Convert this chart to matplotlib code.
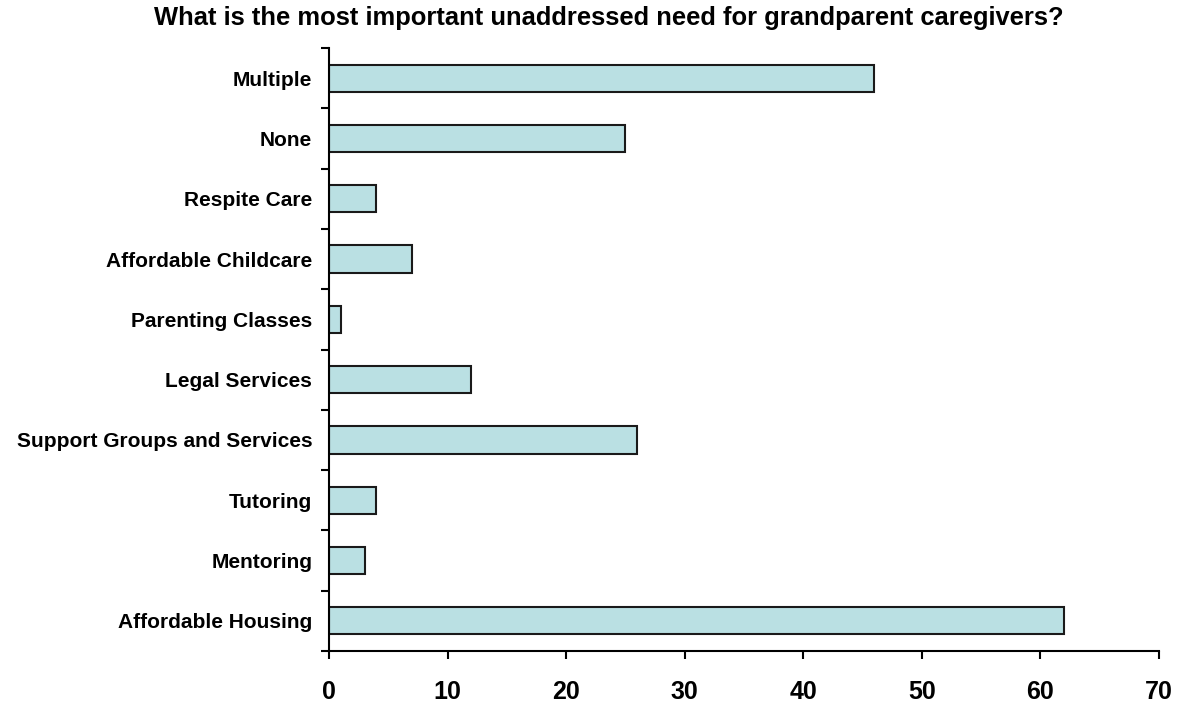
import matplotlib
matplotlib.use("Agg")
import matplotlib.pyplot as plt
from matplotlib.ticker import FixedLocator, NullFormatter

plt.rcParams['font.family'] = ['Liberation Sans', 'DejaVu Sans']

# categories listed bottom to top
needs = ["Affordable Housing", "Mentoring", "Tutoring", "Support Groups and Services",
         "Legal Services", "Parenting Classes", "Affordable Childcare", "Respite Care",
         "None", "Multiple"]
counts = [62, 3, 4, 26, 12, 1, 7, 4, 25, 46]

fig = plt.figure(figsize=(11.78, 7.07), dpi=100)
ax = fig.add_axes([329 / 1178, 1 - 651 / 707, 830 / 1178, 603 / 707])

pos = list(range(len(needs)))
ax.barh(pos, counts, height=0.45, color="#BAE0E3", edgecolor="#1a1a1a", linewidth=1.5)

ax.set_xlim(0, 70)
ax.set_ylim(-0.5, len(needs) - 0.5)
ax.set_xticks(range(0, 71, 10))
ax.set_xticklabels([str(v) for v in range(0, 71, 10)], fontsize=18, fontweight="bold")

# category labels centred on bars, tick marks on the boundaries
ax.set_yticks(pos)
ax.set_yticklabels(needs, fontsize=15, fontweight="bold")
ax.tick_params(axis="y", which="major", length=0, pad=12)
ax.yaxis.set_minor_locator(FixedLocator([p - 0.5 for p in pos] + [len(needs) - 0.5]))
ax.yaxis.set_minor_formatter(NullFormatter())
ax.tick_params(axis="y", which="minor", length=6, width=1.5, direction="out")
ax.tick_params(axis="x", length=6, width=1.5, direction="out", pad=15)

for side in ["top", "right"]:
    ax.spines[side].set_visible(False)
for side in ["left", "bottom"]:
    ax.spines[side].set_linewidth(1.5)

fig.text(0.5167, 0.974, "What is the most important unaddressed need for grandparent caregivers?",
         ha="center", va="center", fontsize=18.4, fontweight="bold")

fig.savefig("out.png", dpi=100)
